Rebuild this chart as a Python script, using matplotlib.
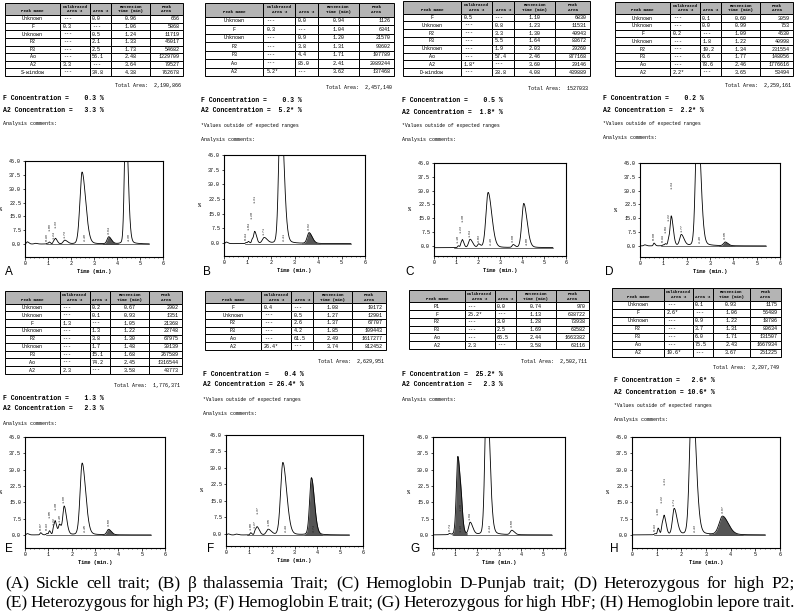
import numpy as np
import matplotlib.pyplot as plt
from matplotlib.table import Table

W, H = 800, 615
MONO = "Liberation Mono"

# ---- table data (Peak Name, Calibrated Area %, Area %, Retention Time, Peak Area)
header = ["\nPeak Name", "Calibrated\nArea %", "\nArea %", "Retention\nTime (min)", "Peak\nArea"]

table_A = [["Unknown", "---", "0.0", "0.96", "666"],
           ["F", "0.3", "---", "1.06", "5868"],
           ["Unknown", "---", "0.5", "1.24", "11719"],
           ["P2", "---", "2.1", "1.33", "46017"],
           ["P3", "---", "2.5", "1.73", "54682"],
           ["Ao", "---", "56.1", "2.48", "1229709"],
           ["A2", "3.3", "---", "3.64", "79527"],
           ["S-window", "---", "34.8", "4.38", "762678"]]
table_B = [["Unknown", "---", "0.0", "0.94", "1126"],
           ["F", "0.3", "---", "1.04", "6341"],
           ["Unknown", "---", "0.9", "1.20", "21570"],
           ["P2", "---", "3.8", "1.31", "93602"],
           ["P3", "---", "4.4", "1.71", "107789"],
           ["Ao", "---", "85.0", "2.41", "2089244"],
           ["A2", "5.2*", "---", "3.62", "137468"]]
table_C = [["F", "0.5", "---", "1.10", "6830"],
           ["Unknown", "---", "0.8", "1.23", "11531"],
           ["P2", "---", "3.3", "1.30", "49943"],
           ["P3", "---", "5.5", "1.64", "83672"],
           ["Unknown", "---", "1.9", "2.03", "29260"],
           ["Ao", "---", "57.4", "2.46", "877168"],
           ["A2", "1.8*", "---", "3.60", "29146"],
           ["D-window", "---", "28.8", "4.08", "439889"]]
table_D = [["Unknown", "---", "0.1", "0.60", "3059"],
           ["Unknown", "---", "0.0", "0.99", "753"],
           ["F", "0.2", "---", "1.09", "4630"],
           ["Unknown", "---", "1.8", "1.22", "40998"],
           ["P2", "---", "10.2", "1.34", "231554"],
           ["P3", "---", "6.6", "1.77", "148056"],
           ["Ao", "---", "78.6", "2.46", "1776616"],
           ["A2", "2.2*", "---", "3.65", "53494"]]
table_E = [["Unknown", "---", "0.2", "0.67", "2902"],
           ["Unknown", "---", "0.1", "0.93", "1351"],
           ["F", "1.3", "---", "1.05", "21368"],
           ["Unknown", "---", "1.3", "1.22", "22748"],
           ["P2", "---", "3.8", "1.30", "67975"],
           ["Unknown", "---", "1.7", "1.48", "30139"],
           ["P3", "---", "15.1", "1.68", "267589"],
           ["Ao", "---", "74.2", "2.45", "1316544"],
           ["A2", "2.3", "---", "3.58", "43773"]]
table_F = [["F", "0.4", "---", "1.08", "10172"],
           ["Unknown", "---", "0.5", "1.27", "12901"],
           ["P2", "---", "2.6", "1.37", "67707"],
           ["P3", "---", "4.2", "1.85", "109443"],
           ["Ao", "---", "61.5", "2.49", "1617277"],
           ["A2", "26.4*", "---", "3.74", "812452"]]
table_G = [["P1", "---", "0.0", "0.74", "970"],
           ["F", "25.2*", "---", "1.13", "638722"],
           ["P2", "---", "3.0", "1.28", "73938"],
           ["P3", "---", "2.5", "1.69", "63582"],
           ["Ao", "---", "66.5", "2.44", "1663382"],
           ["A2", "2.3", "---", "3.58", "63116"]]
table_H = [["Unknown", "---", "0.1", "0.93", "1175"],
           ["F", "2.6*", "---", "1.06", "56489"],
           ["Unknown", "---", "0.9", "1.22", "18786"],
           ["P2", "---", "3.7", "1.31", "80634"],
           ["P3", "---", "6.0", "1.71", "131507"],
           ["Ao", "---", "75.5", "2.43", "1667934"],
           ["A2", "10.6*", "---", "3.67", "251225"]]

total_area = {"A": "2,190,866", "B": "2,457,140", "C": "1527033", "D": "2,259,161",
              "E": "1,776,371", "F": "2,629,951", "G": "2,502,711", "H": "2,207,749"}
f_conc = {"A": "0.3", "B": "0.3", "C": "0.5", "D": "0.2",
          "E": "1.3", "F": "0.4", "G": "25.2*", "H": "2.6*"}
a2_conc = {"A": "3.3", "B": "5.2*", "C": "1.8*", "D": "2.2*",
           "E": "2.3", "F": "26.4*", "G": "2.3", "H": "10.6*"}
out_of_range = {"A": False, "B": True, "C": True, "D": True,
                "E": False, "F": True, "G": False, "H": True}

# ---- chromatogram peaks: retention (min), height (%), width (min)
peaks_rt = {"A": [0.10, 0.45, 0.96, 1.06, 1.24, 1.33, 1.73, 2.48, 3.64, 4.38],
            "B": [0.10, 0.94, 1.04, 1.20, 1.31, 1.71, 2.41, 3.62],
            "C": [1.10, 1.23, 1.30, 1.64, 2.03, 2.46, 3.60, 4.08],
            "D": [0.20, 0.60, 0.99, 1.09, 1.22, 1.34, 1.77, 2.46, 3.65],
            "E": [0.10, 0.67, 0.93, 1.05, 1.22, 1.30, 1.48, 1.68, 2.45, 3.58],
            "F": [0.10, 0.45, 1.08, 1.27, 1.37, 1.85, 2.49, 3.74],
            "G": [0.74, 1.13, 1.28, 1.69, 2.44, 3.58],
            "H": [0.93, 1.06, 1.22, 1.31, 1.71, 2.43, 3.67]}
peaks_h = {"A": [1.2, 0.4, 0.4, 1.0, 1.2, 2.8, 2.0, 39.0, 3.8, 70.0],
           "B": [0.8, 0.5, 1.0, 2.0, 6.0, 3.0, 75.0, 5.5],
           "C": [1.0, 2.0, 3.5, 4.5, 1.8, 30.0, 1.5, 24.0],
           "D": [0.6, 1.5, 0.5, 1.0, 3.0, 16.0, 6.0, 75.0, 2.0],
           "E": [0.6, 1.0, 0.6, 1.8, 3.0, 5.5, 4.5, 13.0, 33.0, 2.5],
           "F": [0.5, 0.4, 1.0, 1.5, 3.5, 2.5, 33.0, 26.0],
           "G": [0.5, 36.0, 5.0, 5.5, 70.0, 2.0],
           "H": [0.5, 3.0, 4.0, 8.0, 12.0, 70.0, 8.5]}
peaks_w = {"A": [0.04, 0.05, 0.03, 0.03, 0.03, 0.045, 0.07, 0.095, 0.07, 0.06],
           "B": [0.04, 0.03, 0.03, 0.03, 0.045, 0.08, 0.08, 0.08],
           "C": [0.03, 0.03, 0.04, 0.07, 0.05, 0.10, 0.05, 0.09],
           "D": [0.04, 0.03, 0.03, 0.03, 0.03, 0.05, 0.07, 0.08, 0.07],
           "E": [0.04, 0.03, 0.03, 0.03, 0.03, 0.04, 0.045, 0.06, 0.09, 0.07],
           "F": [0.04, 0.05, 0.03, 0.03, 0.055, 0.08, 0.10, 0.08],
           "G": [0.03, 0.07, 0.04, 0.07, 0.08, 0.07],
           "H": [0.03, 0.03, 0.03, 0.045, 0.07, 0.09, 0.14]}
shaded_rt = {"A": 3.64, "B": 3.62, "C": None, "D": 3.65,
             "E": 3.58, "F": 3.74, "G": 1.13, "H": 3.67}
baseline = {"A": 0.0, "B": -0.3, "C": -1.0, "D": 0.0,
            "E": 0.0, "F": -0.5, "G": 0.0, "H": 0.0}

caption = ["(A) Sickle cell trait; (B) \u03b2 thalassemia Trait; (C) Hemoglobin D-Punjab trait; (D) Heterozygous for high P2;",
           "(E) Heterozygous for high P3; (F) Hemoglobin E trait; (G) Heterozygous for high HbF; (H) Hemoglobin lepore trait."]

tables = {"A": table_A, "B": table_B, "C": table_C, "D": table_D,
          "E": table_E, "F": table_F, "G": table_G, "H": table_H}

# layout in pixels: table box, text x, first text line y, chart box, chart ymin, letter pos
layout = {
    "A": dict(tab=(5, 3, 183, 76), tx=3, ty=86, chart=(25, 161, 163, 257), ymin=-7.0, let=(5, 272)),
    "B": dict(tab=(205, 3, 394, 76), tx=201, ty=87, chart=(224, 155, 365, 256), ymin=-6.6, let=(203, 272)),
    "C": dict(tab=(403, 1, 590, 76), tx=402, ty=88, chart=(434, 163, 566, 256), ymin=-5.5, let=(405, 272)),
    "D": dict(tab=(615, 2, 793, 76), tx=603, ty=86, chart=(640, 163, 780, 257), ymin=-6.0, let=(605, 272)),
    "E": dict(tab=(5, 291, 182, 374), tx=3, ty=385, chart=(25, 437, 165, 548), ymin=-6.0, let=(5, 549)),
    "F": dict(tab=(205, 291, 386, 350), tx=203, ty=361, chart=(226, 435, 363, 546), ymin=-5.5, let=(207, 549)),
    "G": dict(tab=(409, 290, 589, 349), tx=402, ty=361, chart=(433, 437, 565, 548), ymin=-6.0, let=(410, 549)),
    "H": dict(tab=(612, 288, 781, 357), tx=614, ty=368, chart=(632, 437, 780, 548), ymin=-6.0, let=(610, 549)),
}

fig = plt.figure(figsize=(8, 6.15), dpi=100)


def px_box(x0, y0, x1, y1):
    return [x0 / W, 1 - y1 / H, (x1 - x0) / W, (y1 - y0) / H]


def ftext(x, y, s, **kw):
    return fig.text(x / W, 1 - y / H, s, **kw)


def peak_shape(t, t0, h, w):
    s = np.where(t < t0, w, w * 1.7)
    z = (t - t0) / s
    return h * (0.85 * np.exp(-0.5 * z ** 2) + 0.15 / (1 + z ** 2))


col_w = [55, 30, 21, 39, 33]
aligns = ["center", "left", "left", "center", "right"]

for key, rows in tables.items():
    L = layout[key]
    # ---- table
    tax = fig.add_axes(px_box(*L["tab"]))
    tax.set_axis_off()
    tbl = Table(tax, bbox=[0, 0, 1, 1])
    for c, lab in enumerate(header):
        cell = tbl.add_cell(0, c, col_w[c], 1.6, text=lab, loc="center", facecolor="#b4b4b4")
        cell.get_text().set_fontsize(3.1)
        cell.get_text().set_fontweight("bold")
        cell.get_text().set_family(MONO)
        cell.set_linewidth(0.7)
    for r, row in enumerate(rows, start=1):
        for c, val in enumerate(row):
            cell = tbl.add_cell(r, c, col_w[c], 1, text=val, loc=aligns[c], facecolor="white")
            cell.get_text().set_fontsize(3.6)
            cell.get_text().set_family(MONO)
            cell.set_linewidth(0.7)
    tbl.auto_set_font_size(False)
    tax.add_table(tbl)

    # ---- text block
    ty = L["ty"]
    ftext(L["tab"][2] - 2, ty, "Total Area:  " + total_area[key], ha="right", va="center",
          fontsize=3.6, family=MONO)
    ftext(L["tx"], ty + 13, "F Concentration =  " + f_conc[key].rjust(5) + " %", ha="left", va="center",
          fontsize=4.7, family=MONO, fontweight="bold")
    ftext(L["tx"], ty + 24, "A2 Concentration = " + a2_conc[key].rjust(5) + " %", ha="left", va="center",
          fontsize=4.7, family=MONO, fontweight="bold")
    cy = ty + 38
    if out_of_range[key]:
        ftext(L["tx"], ty + 38, "*Values outside of expected ranges", ha="left", va="center",
              fontsize=3.4, family=MONO)
        cy = ty + 52
    ftext(L["tx"], cy, "Analysis comments:", ha="left", va="center", fontsize=3.6, family=MONO)

    # ---- chromatogram
    ax = fig.add_axes(px_box(*L["chart"]))
    t = np.linspace(0, 5.4, 1500)
    y = np.full_like(t, baseline[key])
    for t0, h, w in zip(peaks_rt[key], peaks_h[key], peaks_w[key]):
        y = y + peak_shape(t, t0, h, w)
    ax.plot(t, y, color="black", lw=0.6)
    ax.plot([0.9, 5.4], [baseline[key], baseline[key]], color="black", lw=0.4)
    if shaded_rt[key] is not None:
        i = peaks_rt[key].index(shaded_rt[key])
        w = peaks_w[key][i]
        m = (t > shaded_rt[key] - 4 * w) & (t < shaded_rt[key] + 6 * w)
        ax.fill_between(t[m], baseline[key], y[m], color="#555555", lw=0)
    table_rts = [float(r[3]) for r in rows]
    last_x, stack = -1.0, 0
    for t0, h in zip(peaks_rt[key], peaks_h[key]):
        if t0 not in table_rts:
            continue
        if h > 20:
            lx, ly = t0 + 0.12, baseline[key] + 1.5
            stack = 0
        else:
            stack = stack + 1 if t0 - last_x < 0.16 else 0
            lx, ly = t0, baseline[key] + h + 1.5 + 4.5 * stack
        last_x = t0
        ax.text(lx, ly, f"{t0:.2f}", rotation=90, fontsize=2.3,
                family=MONO, ha="center", va="bottom", color="#222222")
    ax.set_xlim(0, 6)
    ax.set_ylim(L["ymin"], 45)
    ax.set_xticks(range(7))
    ax.set_xticks(np.arange(0, 6.01, 0.2), minor=True)
    ax.set_yticks([0, 7.5, 15, 22.5, 30, 37.5, 45])
    ax.set_yticklabels(["0.0", "7.5", "15.0", "22.5", "30.0", "37.5", "45.0"])
    ax.tick_params(labelsize=3.6, length=1.8, width=0.5, pad=1)
    ax.tick_params(which="minor", length=1.0, width=0.4)
    for lab in ax.get_xticklabels() + ax.get_yticklabels():
        lab.set_family(MONO)
    for sp in ax.spines.values():
        sp.set_linewidth(0.8)
    ax.set_xlabel("Time (min.)", fontsize=3.8, family=MONO, fontweight="bold", labelpad=2)
    ax.set_ylabel("%", fontsize=3.8, family=MONO, fontweight="bold", rotation=0, labelpad=6, va="center")

    ftext(L["let"][0], L["let"][1], key, fontsize=8.5, family="Liberation Sans", ha="left", va="center")


# ---- justified caption
renderer = fig.canvas.get_renderer()
for line, cy in zip(caption, [584, 603]):
    words = line.split(" ")
    arts = [ftext(0, cy, wd, fontsize=12.5, family="Liberation Serif", ha="left", va="center")
            for wd in words]
    widths = [a.get_window_extent(renderer).width for a in arts]
    gap = (790 - sum(widths)) / (len(words) - 1)
    x = 5
    for a, wd in zip(arts, widths):
        a.set_x(x / W)
        x += wd + gap

fig.savefig("out.png", dpi=100)
